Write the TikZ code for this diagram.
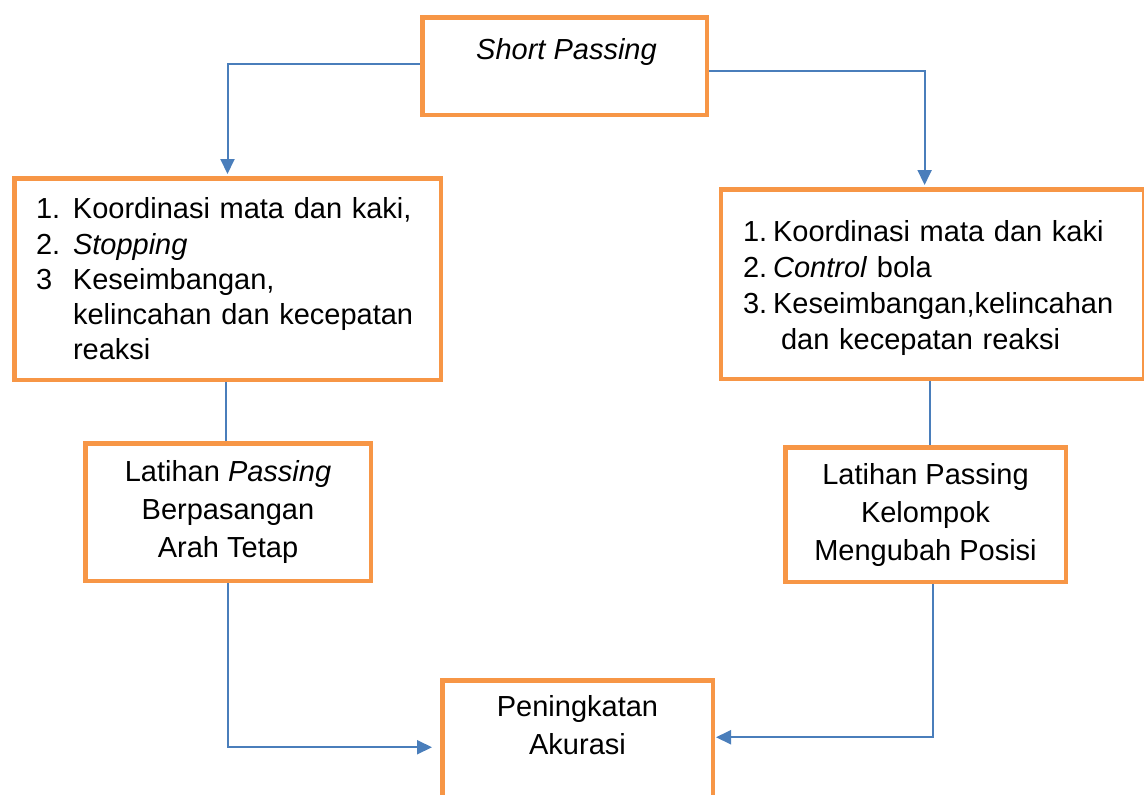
\documentclass[tikz,border=0pt]{standalone}
\usepackage{fontspec}
\setmainfont{Liberation Sans}
\usepackage{tikz}
\usetikzlibrary{arrows.meta,positioning,backgrounds}
\definecolor{boxorange}{HTML}{F79646}
\definecolor{linkblue}{HTML}{4A7EBB}

\begin{document}
\begin{tikzpicture}[x=1pt,y=-1pt,
		box/.style={draw=boxorange,line width=4.5pt,rectangle,inner sep=0pt,fill=white},
		txt/.style={inner sep=0pt,font=\fontsize{29}{38}\selectfont},
		link/.style={draw=linkblue,line width=2pt},
		arrow/.style={link,-{Triangle[length=15pt,width=14pt]}}]
	\useasboundingbox (0,0) rectangle (1144,795);
	\clip (0,0) rectangle (1144,795);
	% top
	\node[box,minimum width=284.5pt,minimum height=97.5pt] (short) at (564.5,66) {};
	\node[txt,below=23pt of short.north,xshift=2pt] (shorttxt) {\textit{Short Passing}};
	% left branch
	\node[box,txt,minimum width=426.5pt,minimum height=201.5pt,text width=383pt,align=left,
		font=\fontsize{29}{35.3}\selectfont] (koord1) at (227.5,279)
		{\makebox[37pt][l]{1.}Koordinasi mata dan kaki,\\
		 \makebox[37pt][l]{2.}\textit{Stopping}\\
		 \makebox[37pt][l]{3}Keseimbangan,\\
		 \hspace*{37pt}kelincahan dan kecepatan\\
		 \hspace*{37pt}reaksi};
	\node[box,txt,minimum width=285.5pt,minimum height=137.5pt,align=center] (latih1) at (228,512)
		{Latihan \textit{Passing}\\Berpasangan\\Arah Tetap};
	% right branch
	\node[box,txt,minimum width=422.75pt,minimum height=189.5pt,text width=379pt,align=left,
		font=\fontsize{29}{36}\selectfont] (koord2) at (932.6,284)
		{\rule{0pt}{29pt}\makebox[30pt][l]{1.}Koordinasi mata dan kaki\\
		 \makebox[30pt][l]{2.}\textit{Control} bola\\
		 \makebox[30pt][l]{3.}Keseimbangan,kelincahan\\
		 \hspace*{38pt}dan kecepatan reaksi};
	\node[box,txt,minimum width=280.5pt,minimum height=134.5pt,align=center] (latih2) at (925.5,514.5)
		{Latihan Passing\\Kelompok\\Mengubah Posisi};
	% bottom
	\node[box,minimum width=270.5pt,minimum height=200pt,anchor=north] (akurasi) at (577.5,678.25) {};
	\node[txt,align=center,below=17pt of akurasi.north] (akurasitxt) {Peningkatan\\Akurasi};
	% connectors
	\begin{scope}[on background layer]
		\draw[arrow,shorten >=2pt] ([yshift=2pt]short.west) -| (koord1.north);
		\draw[arrow,shorten >=2pt] ([yshift=-5pt]short.east) -| ([xshift=-8pt]koord2.north);
		\draw[link] ([xshift=-2pt]koord1.south) -- ([xshift=-2pt]koord1.south |- latih1.north);
		\draw[link] ([xshift=-3pt]koord2.south) -- ([xshift=-3pt]koord2.south |- latih2.north);
		\draw[arrow,shorten >=8pt] (latih1.south) |- ([yshift=-69pt]akurasi.north west);
		\draw[arrow,shorten >=1pt] ([xshift=7pt]latih2.south) |- ([yshift=-59pt]akurasi.north east);
	\end{scope}
\end{tikzpicture}
\end{document}
